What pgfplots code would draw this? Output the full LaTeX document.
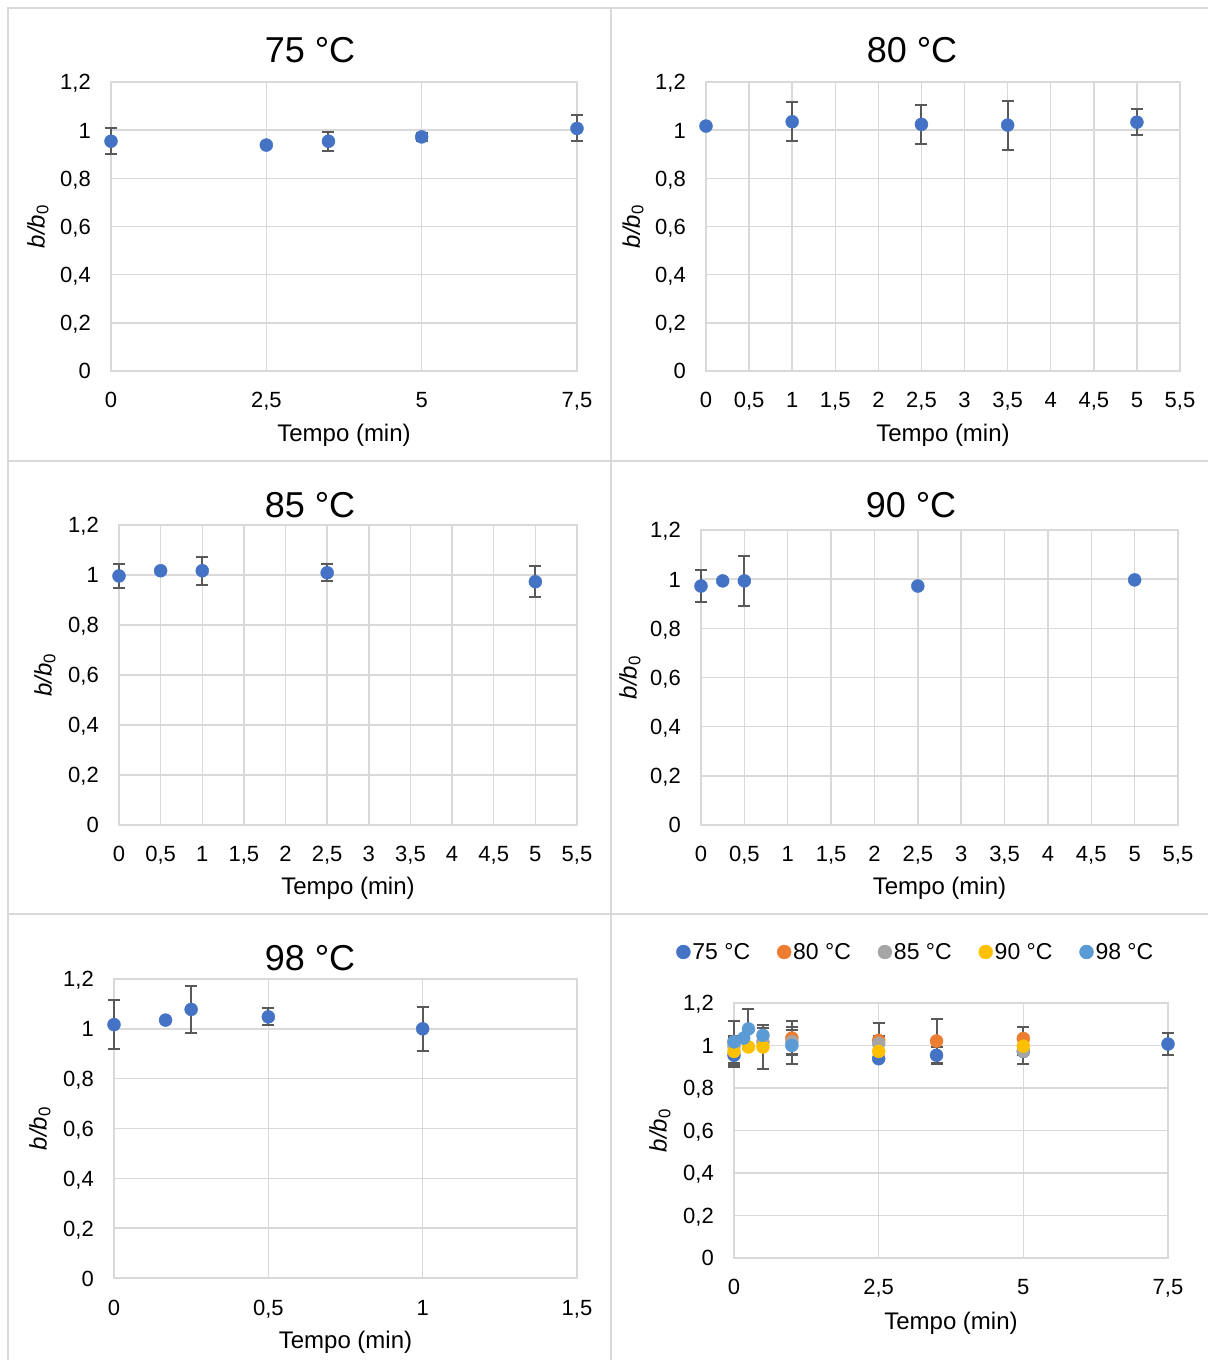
\documentclass[border=0pt]{standalone}
\usepackage{fontspec}
\setmainfont{Liberation Sans}
\usepackage{pgfplots}
\usepackage{pgfplotstable}
\pgfplotsset{compat=1.18}

\definecolor{cA}{HTML}{4472C4}
\definecolor{cB}{HTML}{ED7D31}
\definecolor{cC}{HTML}{A5A5A5}
\definecolor{cD}{HTML}{FFC000}
\definecolor{cE}{HTML}{5B9BD5}
\definecolor{errgray}{HTML}{595959}
\definecolor{gridgray}{HTML}{D9D9D9}

% tempo (min), b/b0, desvio
\pgfplotstableread{
x y e
0 0.954 0.053
2.5 0.938 0
3.5 0.954 0.040
5 0.972 0.015
7.5 1.007 0.054
}\tA
\pgfplotstableread{
x y e
0 1.017 0
1 1.035 0.082
2.5 1.024 0.082
3.5 1.021 0.102
5 1.033 0.054
}\tB
\pgfplotstableread{
x y e
0 0.996 0.048
0.5 1.017 0
1 1.017 0.056
2.5 1.009 0.035
5 0.973 0.062
}\tC
\pgfplotstableread{
x y e
0 0.972 0.065
0.25 0.993 0
0.5 0.993 0.102
2.5 0.972 0
5 0.997 0
}\tD
\pgfplotstableread{
x y e
0 1.017 0.098
0.167 1.035 0
0.25 1.078 0.093
0.5 1.048 0.034
1 1.000 0.087
}\tE

\pgfplotsset{
  panel/.style={
    scale only axis, anchor=south west, clip=false,
    xmin=0, ymin=0, ymax=1.2,
    ytick={0,0.2,0.4,0.6,0.8,1,1.2},
    grid=major,
    major grid style={draw=gridgray, line width=1.5pt},
    axis line style={draw=gridgray, line width=1.5pt},
    major tick length=0pt,
    tick label style={font=\fontsize{22}{26}\selectfont},
    xticklabel style={anchor=base, yshift=-37pt},
    yticklabel style={anchor=base east, inner sep=0pt, xshift=-20pt, yshift=-8pt},
    label style={font=\fontsize{24}{28}\selectfont},
    xlabel={Tempo (min)},
    ylabel={\textit{b/b}\textsubscript{0}},
    ylabel style={anchor=center},
    /pgf/number format/use comma,
    /pgf/number format/assume math mode=true,
  },
  pts/.style={
    only marks, mark=*, mark size=6.5pt, color=#1,
    error bars/.cd, y dir=both, y explicit,
    error bar style={line width=2pt, draw=errgray},
    error mark options={rotate=90, mark size=6pt, line width=2pt, draw=errgray},
  },
}

\begin{document}
\begin{tikzpicture}
\useasboundingbox (0pt,0pt) rectangle (1208pt,1360pt);
\draw[gridgray, line width=2pt] (8pt,0pt) -- (8pt,1352pt) -- (1208pt,1352pt);
\draw[gridgray, line width=2pt] (611pt,0pt) -- (611pt,1352pt);
\draw[gridgray, line width=2pt] (8pt,899pt) -- (1208pt,899pt);
\draw[gridgray, line width=2pt] (8pt,446pt) -- (1208pt,446pt);

\begin{scope}[every node/.style={font=\fontsize{36}{40}\selectfont}]
\node at (310pt,1310pt) {75 °C};
\node at (912pt,1310pt) {80 °C};
\node at (310pt,855pt) {85 °C};
\node at (911pt,855pt) {90 °C};
\node at (310pt,402pt) {98 °C};
\end{scope}

% 75 C
\begin{axis}[panel, at={(111pt,989pt)}, width=466pt, height=289pt,
  xmax=7.5, xtick={0,2.5,5,7.5},
  xlabel style={at={(axis description cs:0.5,-0.221)}, anchor=center},
  ylabel style={at={(axis description cs:-0.157,0.5)}}]
\addplot[pts=cA] table[x=x, y=y, y error=e] {\tA};
\end{axis}

% 80 C
\begin{axis}[panel, at={(706pt,989pt)}, width=474pt, height=289pt,
  xmax=5.5, xtick={0,0.5,...,5.5},
  xlabel style={at={(axis description cs:0.5,-0.221)}, anchor=center},
  ylabel style={at={(axis description cs:-0.154,0.5)}}]
\addplot[pts=cA] table[x=x, y=y, y error=e] {\tB};
\end{axis}

% 85 C
\begin{axis}[panel, at={(119pt,535pt)}, width=458pt, height=300pt,
  xmax=5.5, xtick={0,0.5,...,5.5},
  xlabel style={at={(axis description cs:0.5,-0.21)}, anchor=center},
  ylabel style={at={(axis description cs:-0.162,0.5)}}]
\addplot[pts=cA] table[x=x, y=y, y error=e] {\tC};
\end{axis}

% 90 C
\begin{axis}[panel, at={(701pt,535pt)}, width=477pt, height=295pt,
  xmax=5.5, xtick={0,0.5,...,5.5},
  xlabel style={at={(axis description cs:0.5,-0.214)}, anchor=center},
  ylabel style={at={(axis description cs:-0.149,0.5)}}]
\addplot[pts=cA] table[x=x, y=y, y error=e] {\tD};
\end{axis}

% 98 C
\begin{axis}[panel, at={(114pt,82pt)}, width=463pt, height=299pt,
  xmax=1.5, xtick={0,0.5,1,1.5},
  xlabel style={at={(axis description cs:0.5,-0.214)}, anchor=center},
  ylabel style={at={(axis description cs:-0.160,0.5)}}]
\addplot[pts=cA] table[x=x, y=y, y error=e] {\tE};
\end{axis}

% todas
\begin{axis}[panel, at={(734pt,102pt)}, width=434pt, height=255pt,
  xmax=7.5, xtick={0,2.5,5,7.5},
  xlabel style={at={(axis description cs:0.5,-0.255)}, anchor=center},
  ylabel style={at={(axis description cs:-0.171,0.5)}},
  legend columns=5,
  legend style={draw=none, fill=none, at={(rel axis cs:0.419,1.2)}, anchor=center,
    font=\fontsize{23}{27}\selectfont,
    /tikz/every even column/.append style={column sep=25pt}},
  legend image code/.code={\draw[#1, mark size=7pt] plot coordinates {(0pt,0pt)};}]
\addplot[pts=cA] table[x=x, y=y, y error=e] {\tA};
\addplot[pts=cB] table[x=x, y=y, y error=e] {\tB};
\addplot[pts=cC] table[x=x, y=y, y error=e] {\tC};
\addplot[pts=cD] table[x=x, y=y, y error=e] {\tD};
\addplot[pts=cE] table[x=x, y=y, y error=e] {\tE};
\legend{75 °C, 80 °C, 85 °C, 90 °C, 98 °C}
\end{axis}
\end{tikzpicture}
\end{document}
